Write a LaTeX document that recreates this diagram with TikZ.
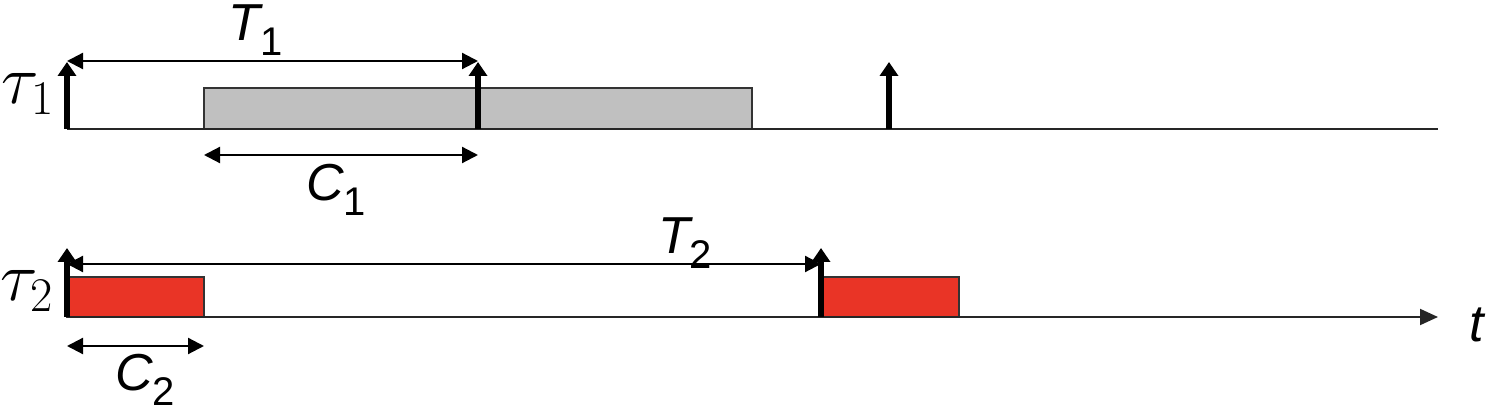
\documentclass[tikz,border=0pt]{standalone}
\usepackage{fontspec}
\setsansfont{Liberation Sans}
\usetikzlibrary{arrows.meta}
\definecolor{jobgray}{RGB}{192,192,192}
\definecolor{jobred}{RGB}{233,52,38}
\newcommand\lsub[1]{\raisebox{-7.5pt}{\fontsize{20}{20}\selectfont\upshape #1}}
\begin{document}
\begin{tikzpicture}[x=0.5pt,y=-0.5pt,
  axisline/.style={line width=1pt, draw=black!85},
  release/.style={line width=2.6pt, -{Triangle[length=7pt,width=9pt]}},
  dimline/.style={line width=1.1pt, {Triangle[length=8pt,width=8pt]}-{Triangle[length=8pt,width=8pt]}},
  job/.style={draw=black!80, line width=0.7pt},
  lbl/.style={font=\fontsize{26}{30}\selectfont\sffamily\itshape, inner sep=0pt},
  tlbl/.style={font=\fontsize{24}{28}\selectfont, inner sep=0pt},
]
\useasboundingbox (0,0) rectangle (1500,416);

% ---------- task 1 ----------
\coordinate (a1s) at (67,129);
\coordinate (a1e) at (1438,129);
\filldraw[job, fill=jobgray] (204,88) rectangle (752,129);
\draw[axisline] (a1s) -- (a1e);

\coordinate (r1a) at (67,129);   \coordinate (r1at) at (67,62);
\coordinate (r1b) at (478,129);  \coordinate (r1bt) at (478,62);
\coordinate (r1c) at (889,129);  \coordinate (r1ct) at (889,62);
\draw[release] (r1a) -- (r1at);
\draw[release] (r1b) -- (r1bt);
\draw[release] (r1c) -- (r1ct);

\coordinate (T1s) at (67,61);  \coordinate (T1e) at (478,61);
\draw[dimline] (T1s) -- (T1e);
\coordinate (C1s) at (204,155); \coordinate (C1e) at (478,155);
\draw[dimline] (C1s) -- (C1e);

\node[lbl] (T1) at (256,30) {T\lsub{1}};
\node[lbl] (C1) at (336,190) {C\lsub{1}};
\node[tlbl] (tau1) at (28,94) {\scalebox{1.4}{$\tau_1$}};

% ---------- task 2 ----------
\coordinate (a2s) at (67,317);
\coordinate (a2e) at (1438,317);
\filldraw[job, fill=jobred] (67,277) rectangle (204,317);
\filldraw[job, fill=jobred] (821,277) rectangle (959,317);
\draw[axisline, -{Triangle[length=9pt,width=8pt]}] (a2s) -- (a2e);

\coordinate (r2a) at (67,317);  \coordinate (r2at) at (67,248);
\coordinate (r2b) at (821,317); \coordinate (r2bt) at (821,248);
\draw[release] (r2a) -- (r2at);
\draw[release] (r2b) -- (r2bt);

\coordinate (T2s) at (67,264);  \coordinate (T2e) at (821,264);
\draw[dimline] (T2s) -- (T2e);
\coordinate (C2s) at (67,346); \coordinate (C2e) at (204,346);
\draw[dimline] (C2s) -- (C2e);

\node[lbl] (T2) at (685,243) {T\lsub{2}};
\node[lbl] (C2) at (145,380) {C\lsub{2}};
\node[tlbl] (tau2) at (27,291) {\scalebox{1.4}{$\tau_2$}};
\node[lbl] (tl) at (1477,325) {t};
\end{tikzpicture}
\end{document}
